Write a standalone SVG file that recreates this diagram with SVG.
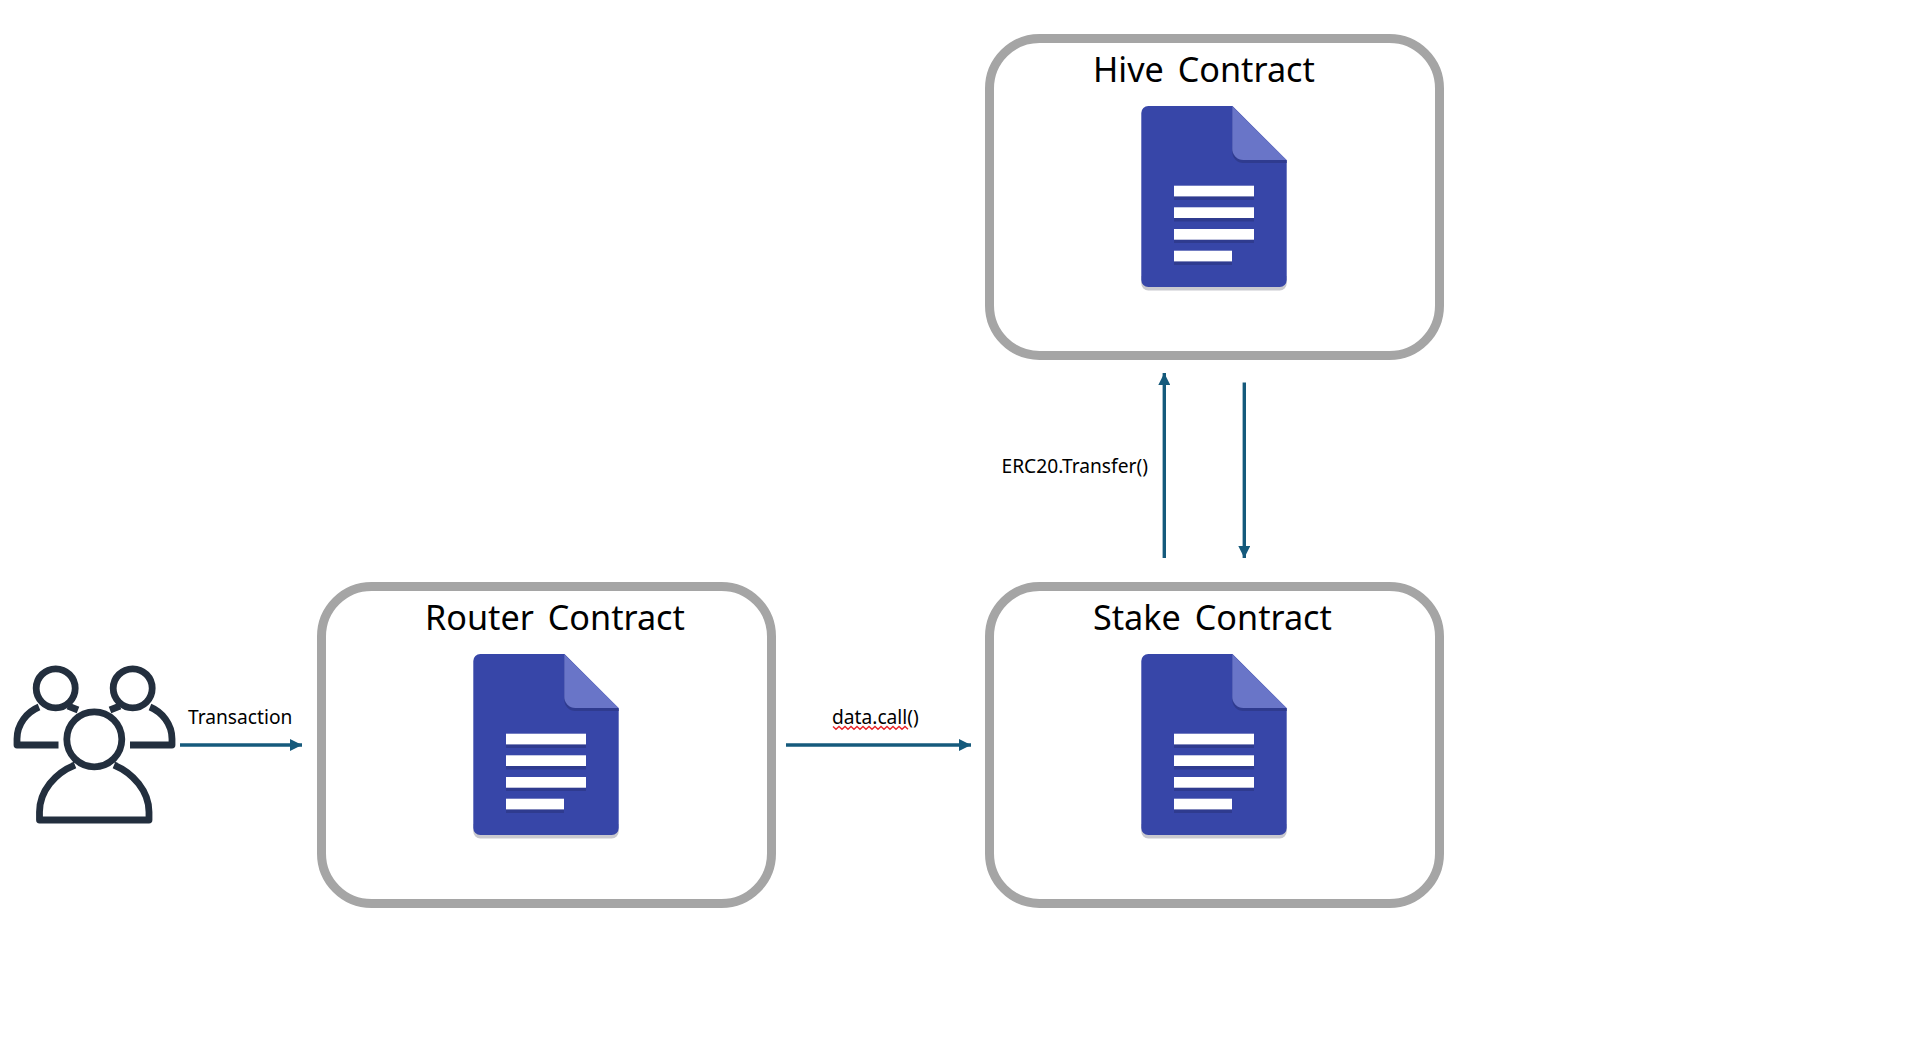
<svg xmlns="http://www.w3.org/2000/svg" xmlns:xlink="http://www.w3.org/1999/xlink" width="1906" height="1056" viewBox="0 0 1906 1056">
<style>
.box{fill:#fff;stroke:#a5a5a5;stroke-width:9}
.title{font-family:"Noto Sans","Open Sans",sans-serif;font-size:34.200px;fill:#000;word-spacing:5px}
.label{font-family:"Noto Sans","Open Sans",sans-serif;font-size:19.200px;fill:#000}
.conn{stroke:#155a7c;stroke-width:3.400;fill:none;marker-end:url(#arrow)}
.person{fill:none;stroke:#232f3e;stroke-width:6.800;stroke-linejoin:round}
</style>
<defs>
<marker id="arrow" markerUnits="userSpaceOnUse" markerWidth="13" markerHeight="12" refX="12" refY="6" orient="auto"><path d="M0 0L12 6L0 12Z" fill="#155a7c"/></marker>
<g id="doc">
<path d="M0 170V177.500a7 7 0 0 0 7 7H138.400a7 7 0 0 0 7-7V170Z" fill="#c9c9cf"/>
<path d="M7 0H91L145.400 54.500V174a7 7 0 0 1-7 7H7a7 7 0 0 1-7-7V7a7 7 0 0 1 7-7Z" fill="#3746a8"/>
<path d="M91 0V46a11 11 0 0 0 11 11H145.400V54.500L91 0Z" fill="#2f3b8f"/>
<path d="M91 0V43a11 11 0 0 0 11 11H145.400L91 0Z" fill="#6975c8"/>
<g fill="#2f3b8f"><rect x="32.700" y="83" width="80" height="11"/><rect x="32.700" y="104.500" width="80" height="11"/><rect x="32.700" y="126" width="80" height="11"/><rect x="32.700" y="148" width="58" height="11"/></g>
<g fill="#fff"><rect x="32.700" y="79.700" width="80" height="10.700"/><rect x="32.700" y="101.300" width="80" height="10.700"/><rect x="32.700" y="123" width="80" height="10.700"/><rect x="32.700" y="144.700" width="58" height="10.700"/></g>
</g>
</defs>
<rect width="1906" height="1056" fill="#fff"/>
<g id="connectors">
<path class="conn" d="M180 745H302"/>
<path class="conn" d="M786 745H971"/>
<path class="conn" d="M1164.300 558V373"/>
<path class="conn" d="M1244.300 382.500V558"/>
</g>
<g id="users" transform="translate(0 1)">
<circle class="person" cx="55.700" cy="687.300" r="19.500"/>
<circle class="person" cx="132.700" cy="687.300" r="19.500"/>
<circle class="person" cx="94.300" cy="738.300" r="27.500"/>
<path class="person" d="M58.500 744H17V738C17 723 27 711 39 706M68 705L78 709"/>
<path class="person" d="M130 744H172V738C172 723 162 711 150 706M120 705L110 709"/>
<path class="person" d="M75 764C55 772 39.500 790 39.500 811V819H149V811C149 790 133 772 114 764"/>
</g>
<g id="router">
<rect class="box" x="321.500" y="586.500" width="450" height="317" rx="50"/>
<text class="title" x="425" y="629.500">Router Contract</text>
<use xlink:href="#doc" x="473.300" y="654"/>
</g>
<g id="stake">
<rect class="box" x="989.500" y="586.500" width="450" height="317" rx="50"/>
<text class="title" x="1093" y="629.500">Stake Contract</text>
<use xlink:href="#doc" x="1141.300" y="654"/>
</g>
<g id="hive">
<rect class="box" x="989.500" y="38.500" width="450" height="317" rx="50"/>
<text class="title" x="1093" y="82">Hive Contract</text>
<use xlink:href="#doc" x="1141.300" y="106"/>
</g>
<g id="labels">
<text class="label" x="188" y="723.600">Transaction</text>
<text class="label" x="832" y="723.600">data.call()</text>
<path d="M833 726.500l3 2.800 3-2.800 3 2.800 3-2.800 3 2.800 3-2.800 3 2.800 3-2.800 3 2.800 3-2.800 3 2.800 3-2.800 3 2.800 3-2.800 3 2.800 3-2.800 3 2.800 3-2.800 3 2.800 3-2.800 3 2.800 3-2.800 3 2.800 3-2.800 3 2.800" fill="none" stroke="#e8262a" stroke-width="1.400"/>
<text class="label" x="1001.500" y="472.800">ERC20.Transfer()</text>
</g>
</svg>
